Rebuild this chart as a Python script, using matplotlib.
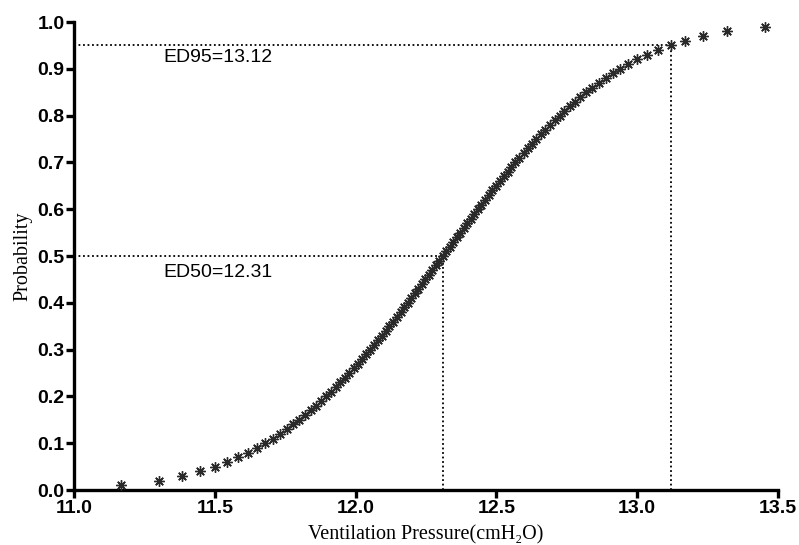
import numpy as np
import matplotlib
matplotlib.use('Agg')
import matplotlib.pyplot as plt

# probability levels and the corresponding ventilation pressures
prob = [i / 100 for i in range(1, 100)]
pressure = [
    11.165, 11.299, 11.384, 11.448, 11.500, 11.544, 11.583, 11.618, 11.650, 11.679,
    11.706, 11.731, 11.756, 11.778, 11.800, 11.821, 11.840, 11.859, 11.878, 11.895,
    11.913, 11.930, 11.946, 11.962, 11.978, 11.993, 12.008, 12.023, 12.038, 12.052,
    12.066, 12.080, 12.093, 12.107, 12.120, 12.134, 12.147, 12.160, 12.173, 12.185,
    12.198, 12.211, 12.223, 12.236, 12.248, 12.261, 12.273, 12.285, 12.298, 12.310,
    12.322, 12.335, 12.347, 12.359, 12.372, 12.384, 12.397, 12.410, 12.422, 12.435,
    12.447, 12.460, 12.474, 12.486, 12.500, 12.513, 12.527, 12.540, 12.554, 12.568,
    12.582, 12.597, 12.612, 12.627, 12.642, 12.658, 12.674, 12.690, 12.707, 12.725,
    12.742, 12.761, 12.780, 12.799, 12.820, 12.842, 12.864, 12.889, 12.914, 12.941,
    12.970, 13.002, 13.037, 13.076, 13.120, 13.172, 13.236, 13.321, 13.455,
]
ed50, ed95 = 12.31, 13.12
ed_labels = ['ED50=12.31', 'ED95=13.12']

x_ticks = [11.0, 11.5, 12.0, 12.5, 13.0, 13.5]
y_ticks = [i / 10 for i in range(11)]

fig = plt.figure(figsize=(7.99, 5.45), dpi=100)
ax = fig.add_axes([0.0932, 0.1009, 0.8799, 0.8587])

ax.plot(pressure, prob, linestyle='none', marker=(8, 2, 0), markersize=7.5,
        markeredgewidth=1.0, color='#2a2a2a', zorder=3)

# reference lines for ED50 and ED95
dot = dict(color='black', linestyle=(0, (1, 1.5)), linewidth=1.3)
ax.plot([11.0, ed50], [0.5, 0.5], **dot)
ax.plot([ed50, ed50], [0.0, 0.5], **dot)
ax.plot([11.0, ed95], [0.95, 0.95], **dot)
ax.plot([ed95, ed95], [0.0, 0.95], **dot)

ax.text(11.315, 0.464, ed_labels[0], fontsize=14, family='Liberation Sans',
        va='center', ha='left')
ax.text(11.315, 0.925, ed_labels[1], fontsize=14, family='Liberation Sans',
        va='center', ha='left')

ax.set_xlim(11.0, 13.5)
ax.set_ylim(0.0, 1.0)
ax.set_xticks(x_ticks)
ax.set_yticks(y_ticks)
ax.set_xticklabels(['%.1f' % t for t in x_ticks])
ax.set_yticklabels(['%.1f' % t for t in y_ticks])

for s in ['top', 'right']:
    ax.spines[s].set_visible(False)
for s in ['left', 'bottom']:
    ax.spines[s].set_linewidth(2.4)
ax.tick_params(direction='out', length=6, width=2.4, labelsize=14, pad=1)
for lab in ax.get_xticklabels() + ax.get_yticklabels():
    lab.set_family('Liberation Sans')
    lab.set_fontweight('bold')

ax.set_xlabel('Ventilation Pressure(cmH\u2082O)', family='Liberation Serif',
              fontsize=14.5, labelpad=6)
ax.set_ylabel('Probability', family='Liberation Serif', fontsize=14.5, labelpad=4)

fig.savefig('out.png', dpi=100)
